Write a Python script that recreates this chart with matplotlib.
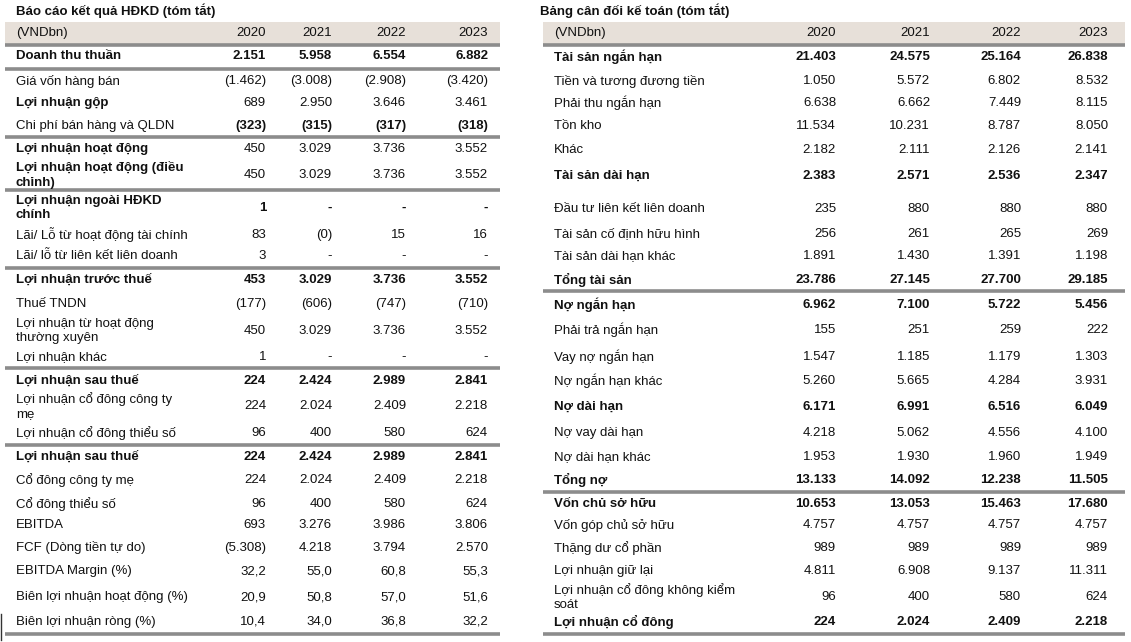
import matplotlib
matplotlib.use('Agg')
import matplotlib.pyplot as plt

plt.rcParams['font.family'] = ['Liberation Sans', 'DejaVu Sans']

'''data'''
years = ['2020', '2021', '2022', '2023']

left_title = 'Báo cáo kết quả HĐKD (tóm tắt)'
left_labels = [
	'Doanh thu thuần', 'Giá vốn hàng bán', 'Lợi nhuận gộp', 'Chi phí bán hàng và QLDN',
	'Lợi nhuận hoạt động', 'Lợi nhuận hoạt động (điều\nchỉnh)', 'Lợi nhuận ngoài HĐKD\nchính',
	'Lãi/ Lỗ từ hoạt động tài chính', 'Lãi/ lỗ từ liên kết liên doanh', 'Lợi nhuận trước thuế',
	'Thuế TNDN', 'Lợi nhuận từ hoạt động\nthường xuyên', 'Lợi nhuận khác', 'Lợi nhuận sau thuế',
	'Lợi nhuận cổ đông công ty\nmẹ', 'Lợi nhuận cổ đông thiểu số', 'Lợi nhuận sau thuế',
	'Cổ đông công ty mẹ', 'Cổ đông thiểu số', 'EBITDA', 'FCF (Dòng tiền tự do)',
	'EBITDA Margin (%)', 'Biên lợi nhuận hoạt động (%)', 'Biên lợi nhuận ròng (%)']
left_values = [
	['2.151', '5.958', '6.554', '6.882'],
	['(1.462)', '(3.008)', '(2.908)', '(3.420)'],
	['689', '2.950', '3.646', '3.461'],
	['(323)', '(315)', '(317)', '(318)'],
	['450', '3.029', '3.736', '3.552'],
	['450', '3.029', '3.736', '3.552'],
	['1', '-', '-', '-'],
	['83', '(0)', '15', '16'],
	['3', '-', '-', '-'],
	['453', '3.029', '3.736', '3.552'],
	['(177)', '(606)', '(747)', '(710)'],
	['450', '3.029', '3.736', '3.552'],
	['1', '-', '-', '-'],
	['224', '2.424', '2.989', '2.841'],
	['224', '2.024', '2.409', '2.218'],
	['96', '400', '580', '624'],
	['224', '2.424', '2.989', '2.841'],
	['224', '2.024', '2.409', '2.218'],
	['96', '400', '580', '624'],
	['693', '3.276', '3.986', '3.806'],
	['(5.308)', '4.218', '3.794', '2.570'],
	['32,2', '55,0', '60,8', '55,3'],
	['20,9', '50,8', '57,0', '51,6'],
	['10,4', '34,0', '36,8', '32,2']]
left_label_bold = [1,0,1,0,1,1,1,0,0,1,0,0,0,1,0,0,1,0,0,0,0,0,0,0]
left_value_bold = [1,0,0,1,0,0,1,0,0,1,0,0,0,1,0,0,1,0,0,0,0,0,0,0]

right_title = 'Bảng cân đối kế toán (tóm tắt)'
right_labels = [
	'Tài sản ngắn hạn', 'Tiền và tương đương tiền', 'Phải thu ngắn hạn', 'Tồn kho', 'Khác',
	'Tài sản dài hạn', 'Đầu tư liên kết liên doanh', 'Tài sản cố định hữu hình',
	'Tài sản dài hạn khác', 'Tổng tài sản', 'Nợ ngắn hạn', 'Phải trả ngắn hạn',
	'Vay nợ ngắn hạn', 'Nợ ngắn hạn khác', 'Nợ dài hạn', 'Nợ vay dài hạn', 'Nợ dài hạn khác',
	'Tổng nợ', 'Vốn chủ sở hữu', 'Vốn góp chủ sở hữu', 'Thặng dư cổ phần', 'Lợi nhuận giữ lại',
	'Lợi nhuận cổ đông không kiểm\nsoát', 'Lợi nhuận cổ đông']
right_values = [
	['21.403', '24.575', '25.164', '26.838'],
	['1.050', '5.572', '6.802', '8.532'],
	['6.638', '6.662', '7.449', '8.115'],
	['11.534', '10.231', '8.787', '8.050'],
	['2.182', '2.111', '2.126', '2.141'],
	['2.383', '2.571', '2.536', '2.347'],
	['235', '880', '880', '880'],
	['256', '261', '265', '269'],
	['1.891', '1.430', '1.391', '1.198'],
	['23.786', '27.145', '27.700', '29.185'],
	['6.962', '7.100', '5.722', '5.456'],
	['155', '251', '259', '222'],
	['1.547', '1.185', '1.179', '1.303'],
	['5.260', '5.665', '4.284', '3.931'],
	['6.171', '6.991', '6.516', '6.049'],
	['4.218', '5.062', '4.556', '4.100'],
	['1.953', '1.930', '1.960', '1.949'],
	['13.133', '14.092', '12.238', '11.505'],
	['10.653', '13.053', '15.463', '17.680'],
	['4.757', '4.757', '4.757', '4.757'],
	['989', '989', '989', '989'],
	['4.811', '6.908', '9.137', '11.311'],
	['96', '400', '580', '624'],
	['224', '2.024', '2.409', '2.218']]
right_bold = [1,0,0,0,0,1,0,0,0,1,1,0,0,0,1,0,0,1,1,0,0,0,0,1]

'''layout (pixel units)'''
left_rows_y = [56,81,103,126,149,175,208,235,256,280,304,331,357,381,406,433,457,480,504,525,548,571,597,622]
right_rows_y = [57,81,103,126,150,176,209,234,256,280,305,330,357,381,407,433,457,480,504,525,548,571,597,622]
left_lines_y = [45,69,137,190,268,368,445,634]
right_lines_y = [45,291,492,634]

FS = 9.5
LINE_C = '#8c8c8c'
HEAD_C = '#e7e0d9'


def draw_table(ax, x0, x1, title_x, label_x, col_x, title, labels, values, rows_y, lbold, vbold, lines_y):
	ax.text(title_x, 11, title, fontsize=FS, fontweight='bold', va='center', ha='left', color='#111111')
	ax.add_patch(plt.Rectangle((x0, 22), x1 - x0, 22, facecolor=HEAD_C, edgecolor='none', zorder=0))
	ax.text(label_x, 33, '(VNDbn)', fontsize=FS, va='center', ha='left', color='#111111')
	for cx, yr in zip(col_x, years):
		ax.text(cx, 33, yr, fontsize=FS, va='center', ha='right', color='#111111')
	for ly in lines_y:
		ax.plot([x0, x1], [ly, ly], color=LINE_C, lw=2.6, solid_capstyle='butt')
	for lab, vals, y, lb, vb in zip(labels, values, rows_y, lbold, vbold):
		ax.text(label_x, y, lab, fontsize=FS, va='center', ha='left', linespacing=1.3,
			fontweight='bold' if lb else 'normal', color='#111111')
		for cx, v in zip(col_x, vals):
			ax.text(cx, y, v, fontsize=FS, va='center', ha='right',
				fontweight='bold' if vb else 'normal', color='#111111')


fig = plt.figure(figsize=(11.31, 6.42), dpi=100)
ax = fig.add_axes([0, 0, 1, 1])
ax.set_xlim(0, 1131)
ax.set_ylim(642, 0)
ax.axis('off')

draw_table(ax, 5, 500, 16, 16, [266, 332, 406, 488], left_title, left_labels, left_values,
	left_rows_y, left_label_bold, left_value_bold, left_lines_y)
draw_table(ax, 543, 1125, 540, 554, [836, 930, 1021, 1108], right_title, right_labels, right_values,
	right_rows_y, right_bold, right_bold, right_lines_y)

# small mark at bottom left edge
ax.plot([1, 1], [614, 640], color='#333333', lw=1)

fig.savefig('out.png', dpi=100)
